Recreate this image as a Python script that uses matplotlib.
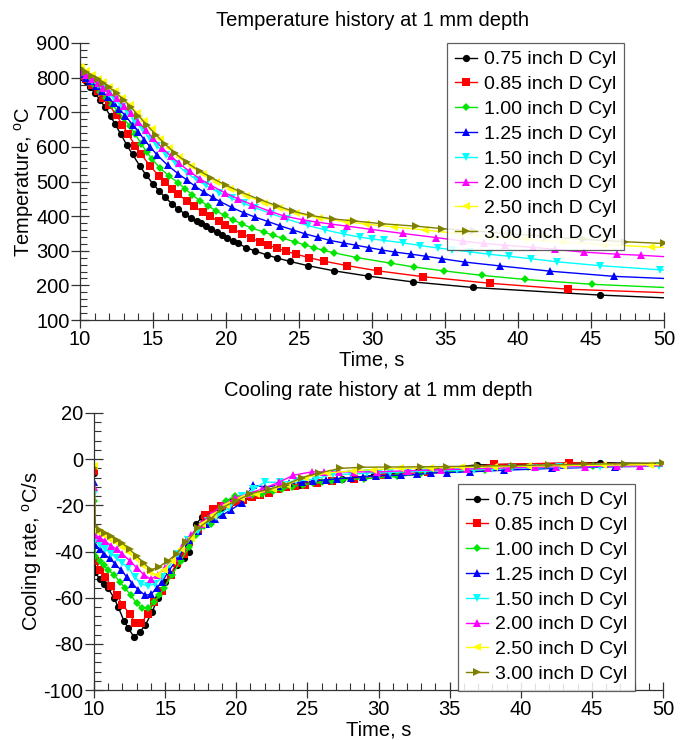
"""Temperature and cooling-rate history at 1 mm depth for cylinders of different diameter."""

import matplotlib

matplotlib.use("Agg")
import matplotlib.pyplot as plt
from matplotlib.ticker import MultipleLocator

plt.rcParams["font.family"] = ["Liberation Sans", "DejaVu Sans"]
plt.rcParams["axes.unicode_minus"] = False

LABELS = [
    "0.75 inch D Cyl", "0.85 inch D Cyl", "1.00 inch D Cyl", "1.25 inch D Cyl",
    "1.50 inch D Cyl", "2.00 inch D Cyl", "2.50 inch D Cyl", "3.00 inch D Cyl",
]

# time (s), temperature (C) and cooling rate (C/s)
TIME_075 = [10.0, 10.1, 10.4, 10.7, 11.0, 11.4, 11.7, 12.1, 12.4, 12.8,
            13.2, 13.6, 14.1, 14.5, 15.0, 15.4, 15.8, 16.3, 16.7, 17.2,
            17.6, 18.0, 18.3, 18.6, 19.0, 19.4, 19.7, 20.1, 20.5, 20.8,
            21.4, 22.0, 22.8, 23.5, 24.4, 25.6, 27.4, 29.7, 32.8, 36.9,
            45.6, 50.0]
TEMP_075 = [808, 803, 789, 774, 757, 734, 715, 688, 666, 636,
            606, 578, 545, 520, 493, 474, 455, 436, 421, 406,
            395, 386, 379, 372, 363, 353, 346, 337, 328, 321,
            309, 299, 288, 279, 269, 257, 242, 227, 210, 194,
            172, 164]
RATE_075 = [-6, -49, -52, -54, -56, -60, -64, -70, -73, -77,
            -75, -72, -66, -60, -53, -50, -46, -43, -40, -28,
            -25, -25, -23, -22, -21, -19, -18, -17.5, -17, -16,
            -15, -14, -13, -12, -11, -9.5, -8.5, -7, -5, -2.5,
            -1.5, -2]

TIME_085 = [10.0, 10.1, 10.4, 10.8, 11.2, 11.6, 12.0, 12.5, 12.9, 13.3,
            13.8, 14.2, 14.8, 15.4, 15.8, 16.3, 16.7, 17.3, 17.8, 18.4,
            18.9, 19.5, 19.9, 20.5, 21.1, 21.7, 22.3, 22.9, 23.5, 24.1,
            24.8, 25.7, 26.7, 28.3, 30.4, 33.5, 38.1, 43.4, 50.0]
TEMP_085 = [810, 806, 795, 779, 761, 742, 721, 691, 664, 636,
            603, 578, 545, 516, 499, 479, 464, 444, 428, 412,
            399, 385, 375, 362, 349, 337, 326, 316, 307, 299,
            290, 280, 270, 257, 242, 225, 206, 189, 179]
RATE_085 = [-5, -44, -48, -51, -55, -59, -63, -67, -71, -71,
            -67, -62, -57, -50, -45, -41, -36, -31, -24, -21.5,
            -20.5, -19.5, -18.5, -17.5, -16.5, -15.5, -14.5, -13, -12, -11.5,
            -11, -10.3, -9.5, -8.4, -7, -5.5, -2.3, -1.6, -2.3]

TIME_100 = [10.0, 10.1, 10.4, 10.7, 11.0, 11.4, 11.8, 12.2, 12.6, 13.0,
            13.4, 13.8, 14.2, 14.6, 14.9, 15.5, 16.1, 16.7, 17.2, 17.7,
            18.2, 18.8, 19.3, 19.9, 20.5, 21.1, 21.8, 22.6, 23.2, 23.9,
            24.7, 25.4, 26.0, 26.7, 27.4, 29.0, 31.3, 32.9, 34.9, 37.5,
            40.5, 45.1, 50.0]
TEMP_100 = [812, 808, 798, 787, 775, 758, 740, 722, 703, 682,
            660, 636, 608, 584, 566, 538, 516, 497, 479, 461,
            445, 429, 416, 402, 389, 377, 365, 354, 345, 336,
            326, 317, 309, 301, 294, 280, 264, 253, 242, 229,
            217, 203, 194]
RATE_100 = [-18, -42, -44, -46, -48, -50, -53, -56, -59, -62.5,
            -64.5, -64.5, -62, -59, -56, -50, -44, -38, -33, -29,
            -28, -24, -18, -16, -16, -15.5, -15, -14, -13, -12,
            -11, -10.5, -10, -9.5, -9, -8.5, -7.5, -6.5, -5.5, -4.5,
            -3.5, -2.8, -2.5]

TIME_125 = [10.0, 10.1, 10.4, 10.7, 11.1, 11.5, 11.9, 12.3, 12.7, 13.1,
            13.6, 14.0, 14.4, 14.8, 15.3, 16.0, 16.7, 17.3, 17.9, 18.5,
            19.1, 19.6, 20.4, 21.2, 22.0, 22.9, 23.7, 24.6, 25.4, 26.3,
            27.1, 28.1, 28.9, 29.8, 30.7, 31.6, 32.7, 33.7, 34.8, 36.4,
            38.8, 42.2, 46.6, 50.0]
TEMP_125 = [815, 811, 800, 789, 775, 760, 745, 727, 709, 690,
            664, 643, 621, 600, 576, 547, 523, 505, 486, 469,
            454, 442, 425, 410, 397, 384, 372, 360, 349, 339,
            330, 322, 316, 309, 302, 296, 290, 284, 277, 267,
            256, 241, 226, 220]
RATE_125 = [-10, -37, -39, -41, -43, -45.5, -48, -51, -54, -56.5,
            -59, -58.5, -56, -53, -48, -42, -35, -31, -28, -26,
            -24, -22, -19, -11.3, -12, -11.5, -10.5, -10, -9.5, -9,
            -8.5, -8, -7.7, -7.2, -7, -7, -6.6, -6, -5.8, -5.5,
            -4.8, -4, -3.3, -3]

TIME_150 = [10.0, 10.1, 10.4, 10.8, 11.2, 11.6, 12.0, 12.4, 12.9, 13.3,
            13.8, 14.3, 14.8, 15.3, 15.9, 16.6, 17.3, 18.0, 18.6, 19.5,
            20.4, 21.2, 22.0, 23.1, 24.2, 25.6, 26.8, 28.1, 29.2, 30.0,
            30.8, 32.1, 33.3, 34.5, 35.5, 36.7, 38.0, 39.4, 40.9, 42.7,
            45.6, 49.7, 50.0]
TEMP_150 = [818, 814, 804, 791, 779, 766, 752, 736, 715, 697,
            673, 648, 624, 602, 577, 550, 525, 505, 489, 468,
            451, 437, 424, 407, 391, 373, 360, 348, 339, 334,
            330, 323, 315, 308, 303, 297, 290, 284, 277, 268,
            257, 245, 244]
RATE_150 = [-15, -35, -37, -39, -41, -43, -45, -47, -51, -54,
            -55, -54, -51, -46, -41, -35, -31, -27, -25, -21,
            -16, -13, -10, -10, -9.5, -8.5, -6.5, -6.5, -6, -6,
            -5.8, -5.5, -5.2, -5, -4.8, -4.5, -4.3, -4, -3.8, -3.5,
            -3.2, -3, -3]

TIME_200 = [10.0, 10.1, 10.4, 10.8, 11.2, 11.6, 12.0, 12.5, 13.0, 13.5,
            14.0, 14.5, 15.0, 15.6, 16.2, 16.8, 17.5, 18.2, 19.0, 19.9,
            20.8, 21.8, 23.0, 24.0, 25.3, 26.2, 27.2, 28.3, 29.9, 32.1,
            34.4, 36.2, 37.7, 39.1, 41.0, 42.5, 44.5, 46.8, 48.4, 50.0]
TEMP_200 = [820, 816, 807, 796, 784, 771, 758, 740, 719, 697,
            673, 649, 625, 598, 574, 552, 529, 508, 488, 468,
            450, 433, 414, 400, 389, 383, 377, 371, 362, 350,
            338, 328, 321, 316, 310, 304, 296, 290, 287, 283]
RATE_200 = [-12, -33, -34, -35.5, -37.5, -39, -41, -44, -47, -50,
            -52, -50, -47, -43, -38, -33, -28, -24, -20, -17,
            -15, -13, -10, -7, -5.5, -5.5, -5.5, -5.5, -5.5, -5,
            -4.6, -4.3, -4, -3.8, -3.5, -3.3, -3.2, -3, -3, -2.8]

TIME_250 = [10.0, 10.1, 10.4, 10.8, 11.2, 11.6, 12.0, 12.4, 12.9, 13.4,
            13.9, 14.4, 14.9, 15.5, 16.1, 16.8, 17.6, 18.4, 19.3, 20.3,
            21.4, 22.6, 23.6, 24.8, 26.4, 28.2, 29.6, 31.5, 33.6, 35.8,
            38.1, 40.5, 43.0, 45.8, 49.1, 50.0]
TEMP_250 = [832, 828, 819, 808, 797, 786, 774, 760, 742, 721,
            699, 675, 651, 623, 597, 570, 545, 522, 500, 479,
            458, 439, 424, 408, 395, 384, 377, 369, 360, 350,
            341, 333, 325, 318, 311, 310]
RATE_250 = [-3, -31, -32, -33.5, -35, -36.5, -38, -40, -43, -46,
            -49, -50, -48, -44, -39, -34, -28, -24, -20, -17,
            -15, -13, -11, -8, -6, -5, -4.5, -4, -3.8, -3.5,
            -3.3, -3, -2.8, -2.6, -2.4, -2.4]

TIME_300 = [10.0, 10.1, 10.4, 10.8, 11.2, 11.6, 12.0, 12.5, 13.0, 13.5,
            14.0, 14.6, 15.2, 15.8, 16.5, 17.3, 18.2, 19.0, 20.0, 21.0,
            22.3, 23.5, 24.6, 25.8, 27.3, 28.8, 30.7, 33.0, 34.8, 37.0,
            39.5, 42.0, 44.5, 47.3, 50.0]
TEMP_300 = [828, 825, 817, 806, 795, 784, 772, 755, 736, 714,
            690, 662, 635, 609, 582, 555, 530, 511, 489, 470,
            448, 430, 414, 402, 392, 386, 378, 371, 364, 357,
            349, 341, 333, 326, 321]
RATE_300 = [-4, -29, -30.5, -32, -33.5, -35, -36.5, -39, -42, -45,
            -48, -46.5, -44, -41, -36, -30, -26, -21, -18, -15,
            -13, -11, -8, -6, -4, -3.5, -3.4, -3.3, -3.2, -3,
            -2.8, -2.5, -2.2, -1.9, -1.6]

SERIES = [
    (TIME_075, TEMP_075, RATE_075, "black", "o", 5.2),
    (TIME_085, TEMP_085, RATE_085, "#ff0000", "s", 6.2),
    (TIME_100, TEMP_100, RATE_100, "#00e600", "D", 4.3),
    (TIME_125, TEMP_125, RATE_125, "#0000ff", "^", 5.8),
    (TIME_150, TEMP_150, RATE_150, "#00ffff", "v", 5.8),
    (TIME_200, TEMP_200, RATE_200, "#ff00ff", "^", 5.8),
    (TIME_250, TEMP_250, RATE_250, "#ffff00", "<", 5.8),
    (TIME_300, TEMP_300, RATE_300, "#808000", ">", 5.8),
]

FIG_W, FIG_H = 688, 740


def style_axis(axis, ylim, ymajor, yminor):
    axis.set_xlim(10, 50)
    axis.set_ylim(*ylim)
    axis.xaxis.set_major_locator(MultipleLocator(5))
    axis.xaxis.set_minor_locator(MultipleLocator(1))
    axis.yaxis.set_major_locator(MultipleLocator(ymajor))
    axis.yaxis.set_minor_locator(MultipleLocator(yminor))
    for side in ("top", "right"):
        axis.spines[side].set_visible(False)
    for side in ("left", "bottom"):
        axis.spines[side].set_color("#333333")
        axis.spines[side].set_linewidth(0.9)
    axis.tick_params(axis="y", which="major", direction="inout", length=13,
                     width=0.9, pad=1, labelsize=14.5, color="#333333")
    axis.tick_params(axis="x", which="major", direction="inout", length=11,
                     width=0.9, pad=2, labelsize=14.5, color="#333333")
    axis.tick_params(which="minor", direction="in", length=5, width=0.8,
                     color="#333333")
    axis.set_xlabel("Time, s", fontsize=14.5, labelpad=1)


def add_legend(axis, right_px, top_px):
    legend = axis.legend(
        loc="upper right", bbox_to_anchor=(right_px / FIG_W, 1 - top_px / FIG_H),
        bbox_transform=axis.figure.transFigure, borderaxespad=0,
        fontsize=14, handlelength=1.15, handletextpad=0.35, labelspacing=0.37,
        borderpad=0.4, fancybox=False, framealpha=0.85, edgecolor="#444444",
    )
    legend.get_frame().set_linewidth(0.9)


figure = plt.figure(figsize=(FIG_W / 100, FIG_H / 100), dpi=100)
top = figure.add_axes([80 / FIG_W, 1 - 320 / FIG_H, 584 / FIG_W, 277 / FIG_H])
bottom = figure.add_axes([94 / FIG_W, 1 - 690 / FIG_H, 569 / FIG_W, 277 / FIG_H])

for (times, temps, rates, color, marker, size), label in zip(SERIES, LABELS):
    last = len(times) - 1 if marker != ">" else len(times)
    marks = list(range(last))
    style = dict(color=color, marker=marker, markersize=size, linewidth=1.0,
                 markeredgewidth=0, markevery=marks, label=label)
    top.plot(times, temps, **style)
    bottom.plot(times, rates, **style)

style_axis(top, (100, 900), 100, 20)
top.set_ylabel("Temperature, $^\\mathregular{o}$C", fontsize=14.5, labelpad=0)
top.set_title("Temperature history at 1 mm depth", fontsize=14.5, pad=12)
add_legend(top, 624, 43)

style_axis(bottom, (-100, 20), 20, 4)
bottom.set_ylabel("Cooling rate, $^\\mathregular{o}$C/s", fontsize=14.5, labelpad=0)
bottom.set_title("Cooling rate history at 1 mm depth", fontsize=14.5, pad=12)
add_legend(bottom, 635, 484)

figure.savefig("out.png", dpi=100)
plt.close(figure)
